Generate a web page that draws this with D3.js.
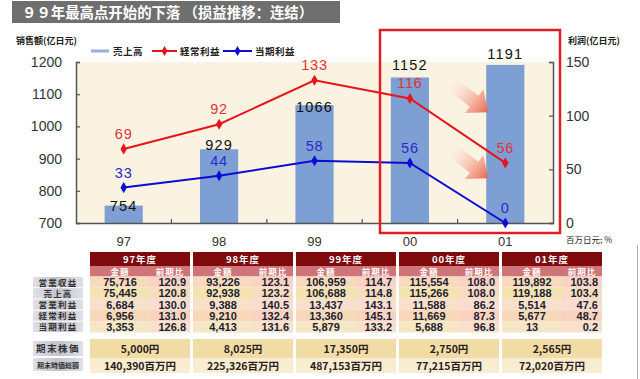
<!DOCTYPE html>
<html><head><meta charset="utf-8">
<script src="https://cdn.jsdelivr.net/npm/d3@7"></script>
<style>
html,body{margin:0;padding:0;background:#fff;}
svg{display:block;}
</style></head>
<body><svg id="c" width="640" height="379"></svg>
<script>
// ---------- data ----------
const years = ["97","98","99","00","01"];
const sales = [754, 929, 1066, 1152, 1191];          // 売上高 (亿日元)
const ordinaryProfit = [69, 92, 133, 116, 56];       // 経常利益
const netProfit = [33, 44, 58, 56, 0];               // 当期利益
const leftTicks = [700, 800, 900, 1000, 1100, 1200];
const rightTicks = [0, 50, 100, 150];

const tableYears = ["97年度","98年度","99年度","00年度","01年度"];
const rowLabels = ["営業収益","売上高","営業利益","経常利益","当期利益"];
const opRevenue      = ["75,716","93,226","106,959","115,554","119,892"];
const opRevenueRatio = ["120.9","123.1","114.7","108.0","103.8"];
const salesAmt       = ["75,445","92,938","106,688","115,266","119,188"];
const salesRatio     = ["120.8","123.2","114.8","108.0","103.4"];
const opProfit       = ["6,684","9,388","13,437","11,588","5,514"];
const opProfitRatio  = ["130.0","140.5","143.1","86.2","47.6"];
const ordProfitAmt   = ["6,956","9,210","13,360","11,669","5,677"];
const ordProfitRatio = ["131.0","132.4","145.1","87.3","48.7"];
const netProfitAmt   = ["3,353","4,413","5,879","5,688","13"];
const netProfitRatio = ["126.8","131.6","133.2","96.8","0.2"];
const stockPrice = ["5,000円","8,025円","17,350円","2,750円","2,565円"];
const marketCap  = ["140,390百万円","225,326百万円","487,153百万円","77,215百万円","72,020百万円"];

// ---------- layout ----------
const svg = d3.select("#c");
const L = 76, R = 553, T = 62, B = 223;
const num = "'Liberation Sans', Arial, sans-serif";
const jp = "'Noto Sans CJK JP', sans-serif";
const sc = "'Noto Sans CJK SC', sans-serif";
const salesLabelDy = [5, 1, 6.5, -7, -5.6];

const defs = svg.append("defs");
const ag = defs.append("linearGradient").attr("id","arrowGrad").attr("x1","0").attr("x2","1").attr("y1","0").attr("y2","0");
ag.append("stop").attr("offset","0").attr("stop-color","#fbe6dc").attr("stop-opacity","0.2");
ag.append("stop").attr("offset","0.6").attr("stop-color","#f3a894").attr("stop-opacity","0.85");
ag.append("stop").attr("offset","1").attr("stop-color","#e8644e");
const lg = defs.append("linearGradient").attr("id","labGrad").attr("x1","0").attr("x2","1");
lg.append("stop").attr("offset","0").attr("stop-color","#e0e0e6");
lg.append("stop").attr("offset","0.5").attr("stop-color","#c2c2cc");
lg.append("stop").attr("offset","1").attr("stop-color","#e0e0e6");

// title bar
svg.append("rect").attr("x",12).attr("y",1).attr("width",328).attr("height",22).attr("fill","#6f6f6f");
svg.append("text").attr("x",22).attr("y",18).attr("fill","#fff")
  .style("font-family",sc).style("font-size","14.4px").style("font-weight","bold")
  .text("９９年最高点开始的下落 （损益推移：连结）");

// plot background
svg.append("rect").attr("x",L).attr("y",T).attr("width",R-L).attr("height",B-T).attr("fill","#fbf3e1");

const x = d3.scaleBand().domain(years).range([L,R]).paddingInner(0.6).paddingOuter(0.3);
const yL = d3.scaleLinear().domain([700,1200]).range([B,T]);
const yR = d3.scaleLinear().domain([0,150]).range([B,T]);
const cx = d => x(d) + x.bandwidth()/2;

// bars
svg.append("g").selectAll("rect").data(years).join("rect")
  .attr("x", d => x(d)).attr("width", x.bandwidth())
  .attr("y", (d,i) => yL(sales[i])).attr("height", (d,i) => B - yL(sales[i]))
  .attr("fill","#7d9fd3");

// arrows (decorative)
const arrowPath = "M0,-7 L28,-7 L28,-15 L46,0 L28,15 L28,7 L0,7 Z";
[[452,84],[452,150]].forEach(p => {
  svg.append("path").attr("d",arrowPath).attr("fill","url(#arrowGrad)")
    .attr("transform",`translate(${p[0]},${p[1]}) rotate(38)`);
});

// axes
const axL = svg.append("g").attr("transform",`translate(${L},0)`)
  .call(d3.axisLeft(yL).tickValues(leftTicks).tickSize(-4).tickPadding(14).tickFormat(d3.format("d")));
const axR = svg.append("g").attr("transform",`translate(${R},0)`)
  .call(d3.axisRight(yR).tickValues(rightTicks).tickSize(-4).tickPadding(13).tickFormat(d3.format("d")));
const axB = svg.append("g").attr("transform",`translate(0,${B})`)
  .call(d3.axisBottom(x).tickSize(0).tickPadding(14));
[axL,axR,axB].forEach(a => {
  a.select(".domain").attr("stroke","#555").attr("stroke-width",1.5);
  a.selectAll(".tick line").attr("stroke","#555").attr("stroke-width",1.2);
  a.selectAll("text").attr("fill","#333").style("font-family",num).style("font-size","14px");
});
axB.selectAll("text").style("font-size","13px");
// boundary ticks on x axis
const step = x.step();
svg.append("g").selectAll("line").data(years.slice(1)).join("line")
  .attr("x1", d => x(d) - step*0.3).attr("x2", d => x(d) - step*0.3)
  .attr("y1", B).attr("y2", B-4).attr("stroke","#555").attr("stroke-width",1.2);

// lines
const line = yScale => d3.line().x((d,i) => cx(years[i])).y(d => yScale(d));
function series(vals, color, labelColor){
  svg.append("path").datum(vals).attr("d", line(yR)).attr("fill","none")
    .attr("stroke",color).attr("stroke-width",2);
  svg.append("g").selectAll("path").data(vals).join("path")
    .attr("d", d3.symbol(d3.symbolDiamond, 36))
    .attr("transform",(d,i) => `translate(${cx(years[i])},${yR(d)})`)
    .attr("fill",color);
  svg.append("g").selectAll("text").data(vals).join("text")
    .attr("x",(d,i) => cx(years[i])).attr("y", d => yR(d) - 10)
    .attr("text-anchor","middle").attr("fill",labelColor)
    .style("font-family",num).style("font-size","14.5px").style("letter-spacing","0.8px")
    .text(d => d);
}
series(ordinaryProfit, "#e8141c", "#e03434");
series(netProfit, "#0c0cd2", "#2a2ac8");

// sales labels
svg.append("g").selectAll("text").data(sales).join("text")
  .attr("x",(d,i) => cx(years[i])).attr("y",(d,i) => yL(d) + salesLabelDy[i])
  .attr("text-anchor","middle").attr("fill","#111")
  .style("font-family",num).style("font-size","14.5px").style("letter-spacing","1.2px")
  .text(d => d);

// axis titles
svg.append("text").attr("x",16).attr("y",44).attr("fill","#222")
  .style("font-family",sc).style("font-size","9px").style("font-weight","bold").text("销售额(亿日元)");
svg.append("text").attr("x",568).attr("y",44).attr("fill","#222")
  .style("font-family",sc).style("font-size","9px").style("font-weight","bold").text("利润(亿日元)");
svg.append("text").attr("x",566).attr("y",243).attr("fill","#222")
  .style("font-family",sc).style("font-size","8.5px").text("百万日元; %");

// legend
const lgY = 51;
svg.append("line").attr("x1",91).attr("x2",109).attr("y1",lgY).attr("y2",lgY).attr("stroke","#9ab0d8").attr("stroke-width",3);
svg.append("text").attr("x",113).attr("y",lgY+3.5).text("売上高");
svg.append("line").attr("x1",152).attr("x2",177).attr("y1",lgY).attr("y2",lgY).attr("stroke","#e8141c").attr("stroke-width",2);
svg.append("path").attr("d",d3.symbol(d3.symbolDiamond,30)).attr("transform",`translate(164.5,${lgY})`).attr("fill","#e8141c");
svg.append("text").attr("x",180).attr("y",lgY+3.5).text("経常利益");
svg.append("line").attr("x1",223).attr("x2",252).attr("y1",lgY).attr("y2",lgY).attr("stroke","#0c0cd2").attr("stroke-width",2);
svg.append("path").attr("d",d3.symbol(d3.symbolDiamond,30)).attr("transform",`translate(237.5,${lgY})`).attr("fill","#0c0cd2");
svg.append("text").attr("x",255).attr("y",lgY+3.5).text("当期利益");
svg.selectAll("text:not([fill])").attr("fill","#222").style("font-family",jp).style("font-size","9.5px").style("font-weight","bold").style("letter-spacing","0.5px");

// red highlight box
svg.append("rect").attr("x",380).attr("y",30).attr("width",180).attr("height",203)
  .attr("fill","none").attr("stroke","#e01f25").attr("stroke-width",2.5);

// ---------- table ----------
const gx = i => 90 + i*103, gw = 100, split = 60;
const h1 = 252, h2 = 266, r0 = 276.5, rh = 11.2;
const rows = [[opRevenue,opRevenueRatio],[salesAmt,salesRatio],[opProfit,opProfitRatio],[ordProfitAmt,ordProfitRatio],[netProfitAmt,netProfitRatio]];
const amtBg = ["#f8dbbc","#f3e3b3","#f9e0cc","#f7d8b8","#f5e6c6"];
const ratBg = ["#fad3c4","#f6dcc0","#fbdcd0","#f9d2c0","#f8e0cc"];
const tg = svg.append("g");
tableYears.forEach((yname,i) => {
  tg.append("rect").attr("x",gx(i)).attr("y",h1).attr("width",gw).attr("height",h2-h1).attr("fill","#7e0a0c");
  tg.append("text").attr("x",gx(i)+gw/2).attr("y",h1+10.5).attr("text-anchor","middle").attr("fill","#fff")
    .style("font-family",jp).style("font-size","9.5px").style("font-weight","bold").style("letter-spacing","1px").text(yname);
  tg.append("rect").attr("x",gx(i)).attr("y",h2).attr("width",gw).attr("height",r0-h2).attr("fill","#cf7479");
  tg.append("text").attr("x",gx(i)+split/2).attr("y",h2+8.5).attr("text-anchor","middle").attr("fill","#fff")
    .style("font-family",jp).style("font-size","8.5px").style("font-weight","bold").style("letter-spacing","1px").text("金額");
  tg.append("text").attr("x",gx(i)+split+(gw-split)/2).attr("y",h2+8.5).attr("text-anchor","middle").attr("fill","#fff")
    .style("font-family",jp).style("font-size","8.5px").style("font-weight","bold").style("letter-spacing","1px").text("前期比");
  rows.forEach((r,j) => {
    const yy = r0 + j*rh;
    tg.append("rect").attr("x",gx(i)).attr("y",yy).attr("width",split).attr("height",rh).attr("fill",amtBg[j]);
    tg.append("rect").attr("x",gx(i)+split).attr("y",yy).attr("width",gw-split).attr("height",rh).attr("fill",ratBg[j]);
    tg.append("text").attr("x",gx(i)+split/2).attr("y",yy+9.6).attr("text-anchor","middle").attr("fill","#1e1e30")
      .style("font-family",num).style("font-size","11px").style("font-weight","bold").text(r[0][i]);
    tg.append("text").attr("x",gx(i)+gw-4).attr("y",yy+9.6).attr("text-anchor","end").attr("fill","#1e1e30")
      .style("font-family",num).style("font-size","11px").style("font-weight","bold").text(r[1][i]);
  });
  tg.append("rect").attr("x",gx(i)).attr("y",339).attr("width",gw).attr("height",19).attr("fill","#f1dca6");
  tg.append("text").attr("x",gx(i)+gw/2).attr("y",353).attr("text-anchor","middle").attr("fill","#2a2020")
    .style("font-family",jp).style("font-size","10.5px").style("font-weight","bold").text(stockPrice[i]);
  tg.append("rect").attr("x",gx(i)).attr("y",358).attr("width",gw).attr("height",15).attr("fill","#f8edd0");
  tg.append("text").attr("x",gx(i)+gw/2).attr("y",369.5).attr("text-anchor","middle").attr("fill","#2a2020")
    .style("font-family",jp).style("font-size","10.5px").style("font-weight","bold").text(marketCap[i]);
});
// row labels
rowLabels.forEach((t,j) => {
  const yy = r0 + j*rh;
  tg.append("rect").attr("x",33).attr("y",yy+0.5).attr("width",50).attr("height",rh-1).attr("fill","url(#labGrad)");
  tg.append("text").attr("x",58).attr("y",yy+9).attr("text-anchor","middle").attr("fill","#333")
    .style("font-family",jp).style("font-size","8.5px").style("font-weight","bold").style("letter-spacing","1.2px").text(t);
});
tg.append("rect").attr("x",33).attr("y",341).attr("width",50).attr("height",15).attr("fill","url(#labGrad)");
tg.append("text").attr("x",58).attr("y",352).attr("text-anchor","middle").attr("fill","#333")
  .style("font-family",jp).style("font-size","9.5px").style("font-weight","bold").style("letter-spacing","1.5px").text("期末株価");
tg.append("rect").attr("x",33).attr("y",358).attr("width",50).attr("height",13).attr("fill","url(#labGrad)");
tg.append("text").attr("x",58).attr("y",367.5).attr("text-anchor","middle").attr("fill","#333")
  .style("font-family",jp).style("font-size","7px").style("font-weight","bold").text("期末時価総額");

// right border
svg.append("line").attr("x1",637.5).attr("x2",637.5).attr("y1",245).attr("y2",379).attr("stroke","#b0b0b0");
</script></body></html>
